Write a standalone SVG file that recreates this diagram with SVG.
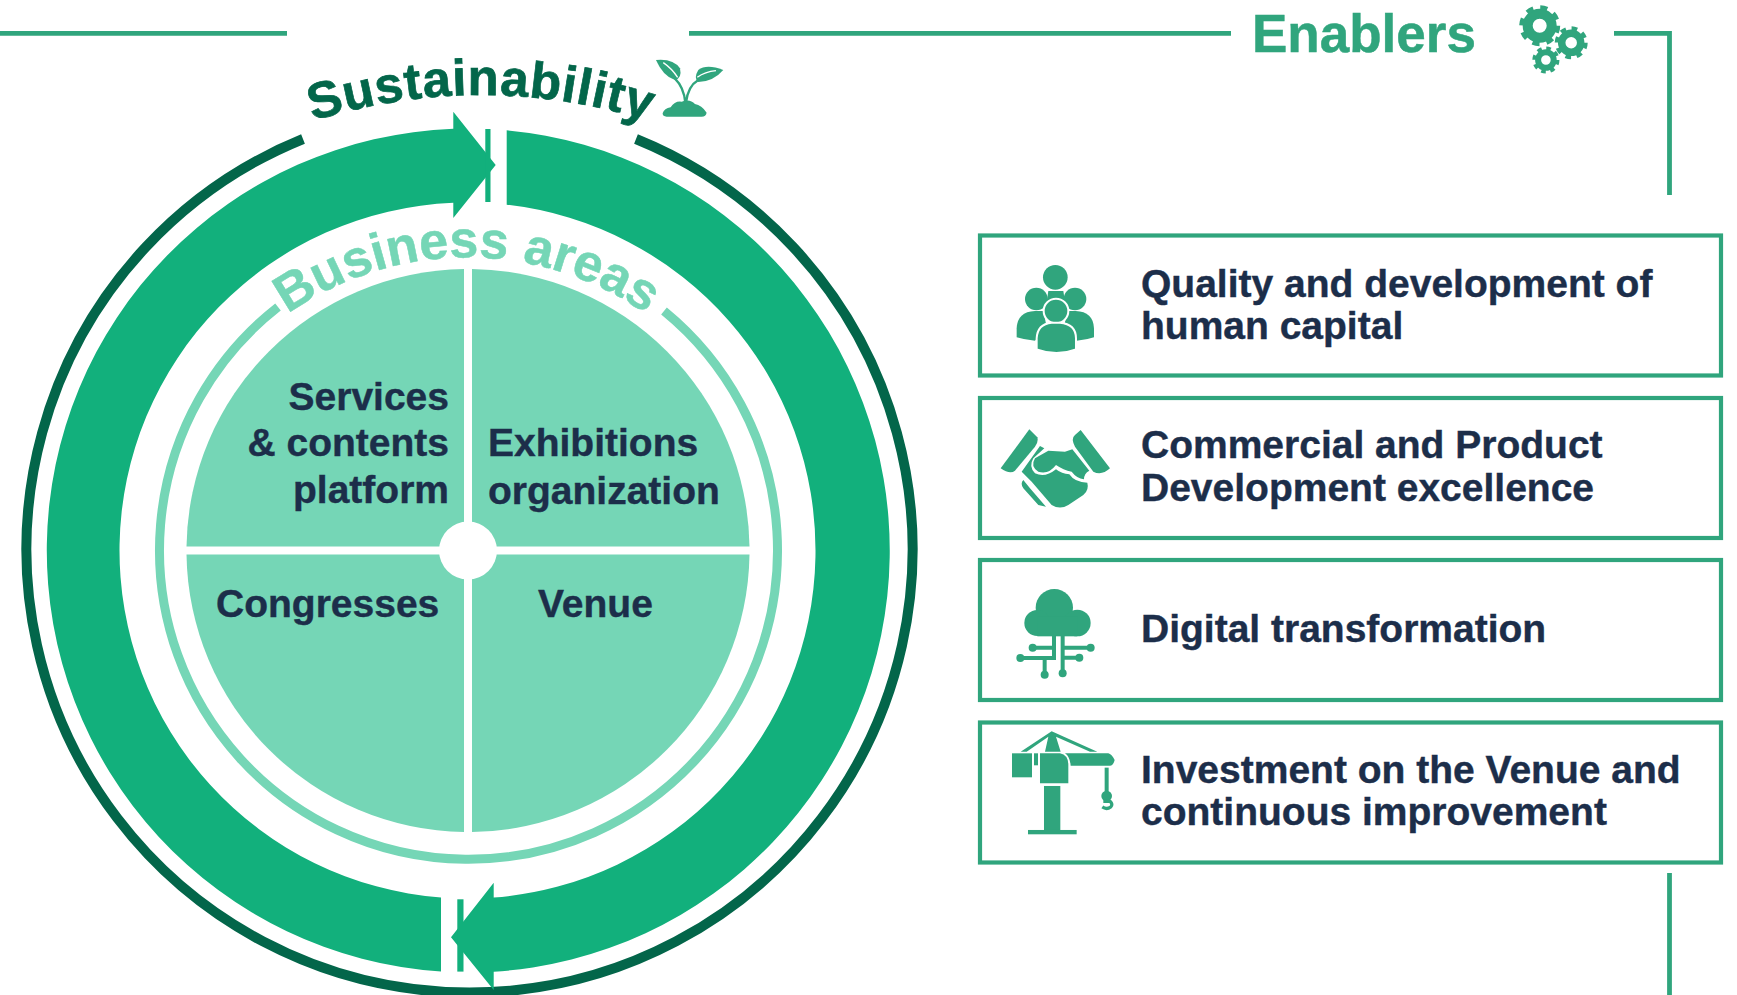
<svg xmlns="http://www.w3.org/2000/svg" width="1737" height="995" viewBox="0 0 1737 995">
<style>
text{font-family:"Liberation Sans",Arial,sans-serif;font-weight:700}
.t{font-size:39px;fill:#1c2e4a;stroke:#1c2e4a;stroke-width:.4}
.box{fill:#fff;stroke:#30a57d;stroke-width:4.2}
.ic{fill:#30a57d}
.q{fill:#75d6b6}
.fl{fill:none;stroke:#30a57d;stroke-width:4.8}
.tr{fill:none;stroke:#30a57d;stroke-width:12}
</style>
<defs>
<path id="arcS" d="M301 125A557 557 0 0 1 661 125"/>
<path id="arcB" d="M267 330A312 312 0 0 1 667 330"/>
</defs>
<rect width="1737" height="995" fill="#fff"/>
<g id="connectors">
<path class="fl" d="M0 33.3H287"/>
<path class="fl" d="M689 33.3H1231"/>
<path class="fl" d="M1614 33.3H1669.5V195"/>
<path class="fl" d="M1669.5 873V995"/>
</g>
<g id="enablers-title">
<text x="1252" y="51.5" font-size="53" fill="#30a57d" stroke="#30a57d" stroke-width=".5">Enablers</text>
<g fill="none" stroke="#30a57d">
<circle cx="1539.7" cy="25.7" r="12" stroke-width="10"/>
<circle cx="1539.7" cy="25.7" r="18" stroke-width="5" stroke-dasharray="7.1 7.04"/>
<circle cx="1571.2" cy="42.8" r="9.5" stroke-width="7.5"/>
<circle cx="1571.2" cy="42.8" r="14.5" stroke-width="4" stroke-dasharray="5.7 5.68"/>
<circle cx="1545.9" cy="60" r="7.8" stroke-width="6"/>
<circle cx="1545.9" cy="60" r="11.8" stroke-width="3.5" stroke-dasharray="4.6 4.67"/>
</g>
</g>
<g id="sustainability">
<path d="M303 139A443 443 0 1 0 636 139" fill="none" stroke="#03664a" stroke-width="10"/>
<text font-size="51" fill="#03664a" stroke="#03664a" stroke-width=".7" letter-spacing="0.7"><textPath href="#arcS" startOffset="50%" text-anchor="middle">Sustainability</textPath></text>
<g transform="translate(250 30) scale(.3333)">
<path class="ic" d="M1238 250Q1243 235 1262 232Q1275 212 1295 215Q1320 205 1335 222Q1355 225 1370 248Q1368 260 1355 260H1250Q1238 260 1238 250Z"/>
<path d="M1306 218Q1302 172 1275 146M1308 218Q1314 168 1345 150" fill="none" stroke="#30a57d" stroke-width="7"/>
<path class="ic" d="M1218 90Q1270 85 1290 115Q1297 145 1275 150Q1240 140 1218 90Z"/>
<path class="ic" d="M1420 120Q1370 100 1345 120Q1330 145 1345 156Q1390 155 1420 120Z"/>
<path d="M1240 98Q1265 115 1283 142M1398 122Q1365 125 1342 142" fill="none" stroke="#fff" stroke-width="4"/>
</g>
</g>
<g id="cycle" fill="#12b07c">
<path d="M506.7 130.3A422 422 0 0 1 493.7 971.7V990L451 937.3L493.7 882.7V897.5A348 348 0 0 0 506.7 204.7Z"/>
<path d="M441 971.6A422 422 0 0 1 453.3 128.8V111.7L495.7 165L453.3 218V202.8A348 348 0 0 0 441 897.5Z"/>
<rect x="485.3" y="129" width="5.2" height="73"/>
<rect x="457.3" y="899.3" width="6.2" height="72.3"/>
</g>
<g id="business-areas">
<path d="M278 307A309 309 0 1 0 664 311" fill="none" stroke="#75d6b6" stroke-width="9"/>
<text font-size="52" fill="#75d6b6" stroke="#75d6b6" stroke-width=".5"><textPath href="#arcB" startOffset="50%" text-anchor="middle">Business areas</textPath></text>
</g>
<g id="services">
<path class="q" d="M464 546.5H186.5A281.5 281.5 0 0 1 464 269Z"/>
<text class="t" text-anchor="end" x="449" y="409.5">Services</text>
<text class="t" text-anchor="end" x="449" y="456">&amp; contents</text>
<text class="t" text-anchor="end" x="449" y="502.5">platform</text>
</g>
<g id="exhibitions">
<path class="q" d="M472 546.5V269A281.5 281.5 0 0 1 749.5 546.5Z"/>
<text class="t" x="488" y="456">Exhibitions</text>
<text class="t" x="488" y="503.5">organization</text>
</g>
<g id="congresses">
<path class="q" d="M464 554.5V832A281.5 281.5 0 0 1 186.5 554.5Z"/>
<text class="t" x="216" y="617">Congresses</text>
</g>
<g id="venue">
<path class="q" d="M472 554.5H749.5A281.5 281.5 0 0 1 472 832Z"/>
<text class="t" x="538" y="617">Venue</text>
</g>
<circle id="hub" cx="468" cy="550.5" r="29" fill="#fff"/>
<g id="enabler-1">
<rect class="box" x="980" y="235.5" width="741" height="140"/>
<g class="ic" transform="translate(980 230) scale(.3333)">
<circle cx="226" cy="142" r="37"/>
<path d="M205 183H250L255 215H200Z"/>
<circle cx="169" cy="207" r="34"/><circle cx="285" cy="207" r="34"/>
<path d="M110 322V295Q112 245 165 243H190L200 290L165 332Q135 330 110 322Z"/>
<path d="M342 322V295Q340 245 287 243H262L252 290L290 332Q320 330 342 322Z"/>
<circle cx="228" cy="243" r="37" stroke="#fff" stroke-width="6"/>
<path d="M170 358V325Q172 282 215 278H240Q288 282 288 325V358Q230 380 170 358Z" stroke="#fff" stroke-width="6"/>
</g>
<text class="t" x="1141" y="296.5">Quality and development of</text>
<text class="t" x="1141" y="338.5">human capital</text>
</g>
<g id="enabler-2">
<rect class="box" x="980" y="398" width="741" height="140"/>
<g class="ic" transform="translate(980 230) scale(.3333)">
<path d="M148 598L172 622Q176 635 165 650L105 722Q90 735 62 715Z"/>
<path d="M302 600L390 715Q365 738 340 725L285 650Q272 625 285 615Z"/>
<path d="M205 662L255 665L277 658L328 722Q312 730 312 748Q290 745 275 725Q250 720 228 705Q205 735 175 725Q150 710 165 685Z"/>
<path d="M180 648L193 655L160 685Q145 710 165 730Q195 745 228 718Q245 732 268 733Q285 758 322 758Q328 780 310 795L265 825Q240 840 215 825L155 755L125 725Z"/>
<path d="M130 750L150 775L198 830L175 825L130 775Q120 760 130 750Z"/>
</g>
<text class="t" x="1141" y="458">Commercial and Product</text>
<text class="t" x="1141" y="501">Development excellence</text>
</g>
<g id="enabler-3">
<rect class="box" x="980" y="560" width="741" height="140"/>
<g class="ic" transform="translate(980 560) scale(.3333)">
<circle cx="223" cy="143" r="56"/><circle cx="172" cy="189" r="39"/><circle cx="292" cy="189" r="40"/>
<rect x="172" y="170" width="120" height="59"/>
<path class="tr" d="M222 225V294H121M222 263H158M194 294V344M248 225V340M248 263H332M248 293H298"/>
<circle cx="121" cy="294" r="12"/><circle cx="158" cy="263" r="12"/><circle cx="194" cy="344" r="12"/>
<circle cx="248" cy="340" r="12"/><circle cx="332" cy="263" r="12"/><circle cx="298" cy="293" r="12"/>
</g>
<text class="t" x="1141" y="642">Digital transformation</text>
</g>
<g id="enabler-4">
<rect class="box" x="980" y="722.5" width="741" height="140"/>
<g class="ic" transform="translate(980 560) scale(.3333)">
<path d="M122 575L215 514L352 575H330L228 530L242 575H195L205 530L140 575Z"/>
<rect x="96" y="580" width="60" height="72"/>
<rect x="162" y="580" width="12" height="36"/>
<path d="M180 580H240Q265 585 265 615V670H180Z"/>
<path d="M272 617Q270 590 255 580H385Q395 582 404 600Q400 617 390 617Z"/>
<rect x="192" y="678" width="49" height="135"/>
<rect x="144" y="810" width="146" height="13"/>
<rect x="374" y="623" width="12" height="75"/>
<circle cx="380" cy="708" r="16"/>
<path d="M370 724H390Q400 733 392 741Q380 750 367 741" fill="none" stroke="#30a57d" stroke-width="10"/>
</g>
<text class="t" x="1141" y="783">Investment on the Venue and</text>
<text class="t" x="1141" y="825">continuous improvement</text>
</g>
</svg>
